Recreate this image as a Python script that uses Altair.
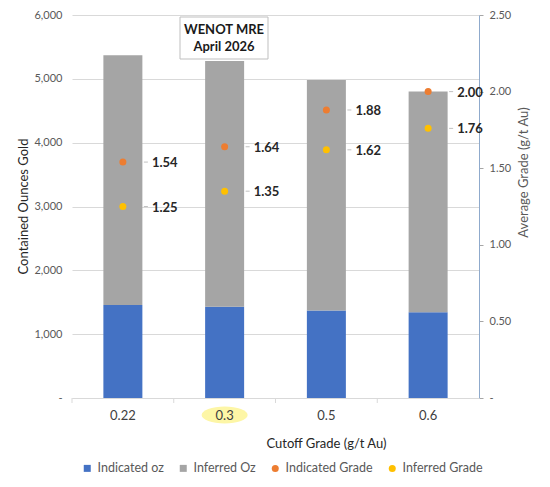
import altair as alt
import pandas as pd

# ---------------- data ----------------
cutoffs = ["0.22", "0.3", "0.5", "0.6"]
indicated_oz = [1455, 1430, 1370, 1345]
inferred_oz = [3915, 3850, 3610, 3455]
indicated_grade = [1.54, 1.64, 1.88, 2.00]
inferred_grade = [1.25, 1.35, 1.62, 1.76]

series_names = ["Indicated oz", "Inferred Oz", "Indicated Grade", "Inferred Grade"]
series_colors = ["#4472C4", "#A5A5A5", "#ED7D31", "#FFC000"]
series_shapes = ["square", "square", "circle", "circle"]
series_sizes = [49, 49, 30, 30]

left_ticks = [0, 1000, 2000, 3000, 4000, 5000, 6000]
right_ticks = [0, 0.5, 1.0, 1.5, 2.0, 2.5]
annotation_lines = ["WENOT MRE", "April 2026"]
highlighted_cutoff = "0.3"

x_title = "Cutoff Grade (g/t Au)"
left_title = "Contained Ounces Gold"
right_title = "Average Grade (g/t Au)"

# ---------------- tables ----------------
oz_rows = []
for c, ind, inf in zip(cutoffs, indicated_oz, inferred_oz):
    oz_rows.append({"cutoff": c, "series": series_names[0], "oz": ind, "order": 0})
    oz_rows.append({"cutoff": c, "series": series_names[1], "oz": inf, "order": 1})
oz_df = pd.DataFrame(oz_rows)

grade_rows = []
for c, ig, fg in zip(cutoffs, indicated_grade, inferred_grade):
    grade_rows.append({"cutoff": c, "series": series_names[2], "grade": ig})
    grade_rows.append({"cutoff": c, "series": series_names[3], "grade": fg})
grade_df = pd.DataFrame(grade_rows)

hl_df = pd.DataFrame({"cutoff": [highlighted_cutoff]})
cat_df = pd.DataFrame({"cutoff": cutoffs})
ann_df = pd.DataFrame({"t": [annotation_lines]})

FONT = "Lato"
W, H = 407, 383
STEP = W / len(cutoffs)

color_scale = alt.Scale(domain=series_names, range=series_colors)
x_scale = alt.Scale(domain=cutoffs, paddingInner=0, paddingOuter=0)
x_axis = alt.Axis(
    title=x_title,
    labelAngle=0,
    labelAlign="center",
    labelBaseline="middle",
    labelFontSize=13,
    labelColor="#404040",
    labelPadding=17,
    domainColor="#d9d9d9",
    ticks=False,
    titleFontSize=13,
    titleFontWeight="normal",
    titleColor="#262626",
    titleX=254,
    titleY=45,
    titleBaseline="middle",
    zindex=1,
)
x_enc = alt.X("cutoff:N", sort=cutoffs, scale=x_scale, axis=x_axis)

# highlight ellipse behind "0.3"
ellipse = alt.Chart(hl_df).mark_point(
    shape="M -1 0 A 1 0.37 0 1 0 1 0 A 1 0.37 0 1 0 -1 0 Z",
    filled=True,
    color="#FDF6A6",
    opacity=1,
    size=2116,
).encode(x=x_enc, y=alt.value(H + 17))

# category separator ticks below the x axis
sep_ticks = alt.Chart(cat_df).mark_rule(
    color="#d9d9d9", strokeWidth=1, xOffset=-STEP / 2
).encode(x=x_enc, y=alt.value(H), y2=alt.value(H + 5))

bars = alt.Chart(oz_df).mark_bar(size=39).encode(
    x=x_enc,
    y=alt.Y(
        "oz:Q",
        stack="zero",
        scale=alt.Scale(domain=[0, 6000], nice=False),
        axis=alt.Axis(
            title=left_title,
            values=left_ticks,
            format=",.0f",
            labelExpr="datum.value == 0 ? '-' : datum.label",
            domain=False,
            ticks=False,
            labelPadding=10,
            labelFontSize=11,
            labelColor="#595959",
            gridColor="#d9d9d9",
            titleFontSize=13,
            titleFontWeight="normal",
            titleColor="#262626",
            titleAngle=270,
            titleX=-49,
            titleY=191,
            titleBaseline="middle",
        ),
    ),
    color=alt.Color("series:N", scale=color_scale, title=None),
    order=alt.Order("order:Q", sort="ascending"),
)

grade_scale = alt.Scale(domain=[0, 2.5], nice=False)

points = alt.Chart(grade_df).mark_point(filled=True, opacity=1).encode(
    x=x_enc,
    y=alt.Y(
        "grade:Q",
        scale=grade_scale,
        axis=alt.Axis(
            orient="right",
            title=right_title,
            values=right_ticks,
            format=".2f",
            labelExpr="datum.value == 0 ? '-' : datum.label",
            grid=False,
            domainColor="#8FAACC",
            tickColor="#a6a6a6",
            tickSize=4,
            labelPadding=6,
            labelFontSize=11,
            labelColor="#595959",
            titleFontSize=13,
            titleFontWeight="normal",
            titleColor="#595959",
            titleAngle=270,
            titleX=44,
            titleY=157,
            titleBaseline="middle",
        ),
    ),
    color=alt.Color("series:N", scale=color_scale, title=None),
    shape=alt.Shape("series:N", scale=alt.Scale(domain=series_names, range=series_shapes), title=None),
    size=alt.Size("series:N", scale=alt.Scale(domain=series_names, range=series_sizes), title=None),
)

leaders = alt.Chart(grade_df).mark_tick(
    size=4, thickness=1, color="#a6a6a6", xOffset=23
).encode(
    x=x_enc,
    y=alt.Y("grade:Q", scale=grade_scale),
)

labels = alt.Chart(grade_df).mark_text(
    align="left", baseline="middle", dx=29, dy=1,
    fontWeight="bold", fontSize=13, color="#262626", font=FONT,
).encode(
    x=x_enc,
    y=alt.Y("grade:Q", scale=grade_scale),
    text=alt.Text("grade:Q", format=".2f"),
)

ann_box = alt.Chart(ann_df).mark_rect(
    fill="white", stroke="#bfbfbf", strokeWidth=1
).encode(
    x=alt.value(108), x2=alt.value(196), y=alt.value(2), y2=alt.value(44)
)
ann_text = alt.Chart(ann_df).mark_text(
    align="center", baseline="middle", fontWeight="bold", fontSize=13,
    color="#1a1a1a", lineHeight=17, font=FONT,
).encode(x=alt.value(152), y=alt.value(15), text="t")

grade_layer = alt.layer(points, leaders, labels)

chart = alt.layer(bars, ellipse, sep_ticks, ann_box, ann_text, grade_layer).resolve_scale(
    y="independent"
).properties(
    width=W,
    height=H,
    autosize=alt.AutoSizeParams(type="none"),
    padding={"left": 64, "top": 7, "right": 63, "bottom": 81},
    background="white",
).configure(
    font=FONT,
).configure_view(
    stroke=None
).configure_legend(
    orient="none",
    legendX=9,
    legendY=447,
    direction="horizontal",
    columns=4,
    columnPadding=13,
    labelFontSize=12.5,
    labelColor="#595959",
    labelFont=FONT,
    labelOffset=4,
    symbolStrokeWidth=0,
    symbolOpacity=1,
)

chart.save("out.html", embed_options={"renderer": "svg", "actions": False})
